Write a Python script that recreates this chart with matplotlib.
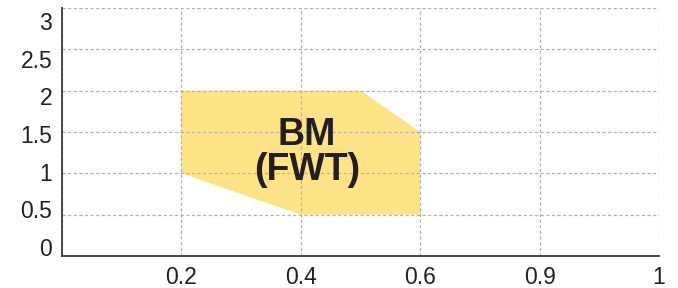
import numpy as np
import matplotlib
matplotlib.use("Agg")
import matplotlib.pyplot as plt
from matplotlib.patches import Polygon
from matplotlib import font_manager
import matplotlib.transforms as mtransforms

# --- data ---
x_tick_values = [0, 0.2, 0.4, 0.6, 0.9, 1]
x_tick_labels = ["", "0.2", "0.4", "0.6", "0.9", "1"]
y_ticks = [0, 0.5, 1, 1.5, 2, 2.5, 3]
y_tick_labels = ["0", "0.5", "1", "1.5", "2", "2.5", "3"]
region_x = [0.2, 0.5, 0.6, 0.6, 0.4, 0.2]
region_y = [2.0, 2.0, 1.5, 0.5, 0.5, 1.0]
region_label = "BM\n(FWT)"
label_x, label_y = 0.41, 1.25

names = {f.name for f in font_manager.fontManager.ttflist}
fam = ["Liberation Sans Narrow", "Liberation Sans", "DejaVu Sans"]
fam = [f for f in fam if f in names] or ["DejaVu Sans"]
plt.rcParams["font.family"] = fam

fig = plt.figure(figsize=(6.78, 2.88), dpi=100)
ax = fig.add_axes([62/678, 1 - 256/288, (659 - 62)/678, (256 - 8)/288])

pos = np.arange(len(x_tick_values))
def xs(v):
    return np.interp(v, x_tick_values, pos)

poly = Polygon(np.column_stack([xs(np.array(region_x)), region_y]),
               closed=True, facecolor="#fde386", edgecolor="none", zorder=1)
ax.add_patch(poly)

ax.text(xs(label_x), label_y, region_label, ha="center", va="center",
        fontsize=27, fontweight="bold", color="#231f20", linespacing=0.95, zorder=3)

ax.set_xlim(0, pos[-1])
ax.set_ylim(0, 3)
ax.set_xticks(pos)
ax.set_xticklabels(x_tick_labels)
ax.set_yticks(y_ticks)
ax.set_yticklabels(y_tick_labels)
ax.tick_params(length=0, labelsize=16.5, colors="#231f20", pad=7)
ax.tick_params(axis="x", pad=7)

# the reference's y labels are spaced a bit tighter than the grid
for i, lab in enumerate(ax.get_yticklabels()):
    dy = (9 - 3.7 * i) / 72.0  # points -> inches approx (px at 100dpi ~ 0.72pt)
    off = mtransforms.ScaledTranslation(0, (9 - 3.7 * i) / 100.0, fig.dpi_scale_trans)
    lab.set_transform(lab.get_transform() + off)

ax.grid(True, color="#b0b0b0", linestyle=(0, (2.5, 2)), linewidth=0.9, zorder=2)
ax.set_axisbelow(False)
for s in ["top", "right"]:
    ax.spines[s].set_visible(False)
for s in ["left", "bottom"]:
    ax.spines[s].set_color("#3a3a3a")
    ax.spines[s].set_linewidth(1.3)
    ax.spines[s].set_zorder(4)

fig.savefig("out.png", dpi=100)
